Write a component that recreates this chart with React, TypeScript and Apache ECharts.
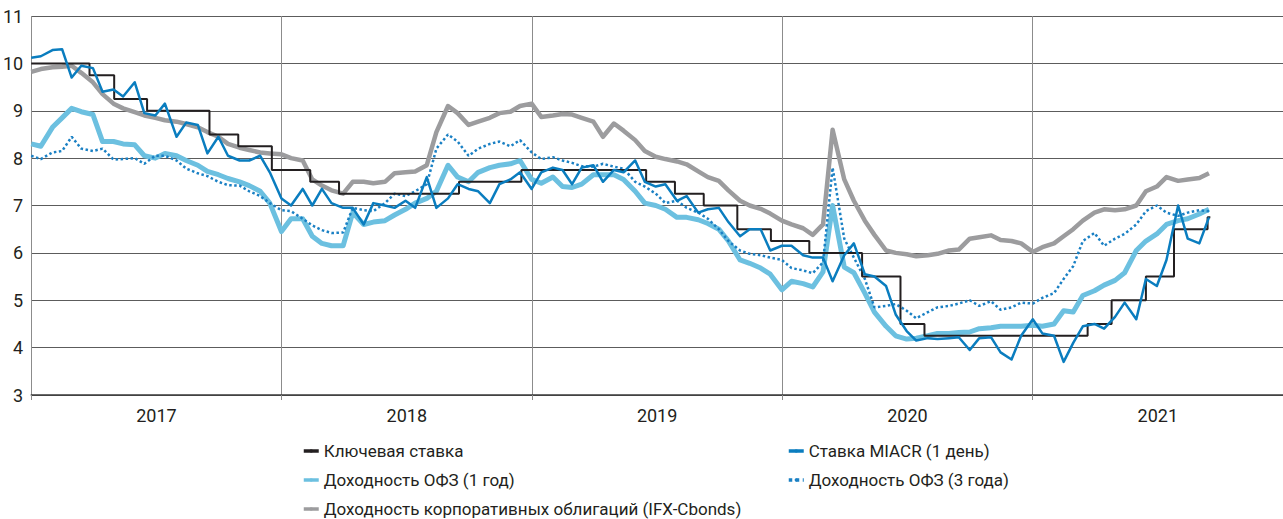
import { useEffect, useRef } from "react";
import * as echarts from "echarts";

const FONT = "Roboto, 'Noto Sans', sans-serif";

const years = ["2017", "2018", "2019", "2020", "2021"];

// Semi-monthly observation dates: 1st and 15th of each month, Jan 2017 - Sep 15 2021
const dates: string[] = [];
for (let y = 2017; y <= 2021; y++) {
  for (let m = 1; m <= 12; m++) {
    for (const d of [1, 15]) {
      if (y === 2021 && m > 9) continue;
      const mm = String(m).padStart(2, "0");
      const dd = String(d).padStart(2, "0");
      dates.push(`${y}-${mm}-${dd}`);
    }
  }
}

const keyRateDates = [
  "2017-01-01", "2017-03-27", "2017-05-02", "2017-06-19", "2017-09-18", "2017-10-30",
  "2017-12-18", "2018-02-12", "2018-03-26", "2018-09-17", "2018-12-17", "2019-06-17",
  "2019-07-29", "2019-09-09", "2019-10-28", "2019-12-16", "2020-02-10", "2020-04-27",
  "2020-06-22", "2020-07-27", "2021-03-22", "2021-04-26", "2021-06-15", "2021-07-26",
  "2021-09-13", "2021-09-17",
];
const keyRateValues = [
  10.0, 9.75, 9.25, 9.0, 8.5, 8.25,
  7.75, 7.5, 7.25, 7.5, 7.75, 7.5,
  7.25, 7.0, 6.5, 6.25, 6.0, 5.5,
  4.5, 4.25, 4.5, 5.0, 5.5, 6.5,
  6.75, 6.75,
];

const miacr = [
  10.12, 10.15, 10.28, 10.3, 9.7, 9.95, 9.9, 9.4, 9.45, 9.3, 9.6, 8.95,
  8.9, 9.15, 8.45, 8.75, 8.7, 8.1, 8.45, 8.05, 7.95, 7.95, 8.05, 7.7,
  7.15, 7.0, 7.35, 7.0, 7.35, 7.05, 6.95, 6.95, 6.6, 7.05, 7.0, 6.95,
  7.1, 6.95, 7.6, 6.95, 7.15, 7.45, 7.35, 7.3, 7.05, 7.45, 7.55, 7.7,
  7.35, 7.7, 7.8, 7.75, 7.45, 7.8, 7.85, 7.5, 7.75, 7.7, 7.95, 7.5,
  7.4, 7.45, 7.1, 7.2, 6.85, 6.92, 6.95, 6.65, 6.35, 6.5, 6.5, 6.05,
  6.15, 6.15, 5.95, 5.9, 5.9, 5.4, 5.95, 6.2, 5.55, 5.5, 5.3, 4.7,
  4.35, 4.15, 4.2, 4.18, 4.2, 4.22, 3.95, 4.2, 4.22, 3.9, 3.75, 4.25,
  4.6, 4.3, 4.25, 3.7, 4.1, 4.45, 4.5, 4.4, 4.65, 4.95, 4.6, 5.45,
  5.3, 5.85, 7.0, 6.3, 6.2, 6.75,
];

const ofz1 = [
  8.3, 8.25, 8.65, 8.85, 9.05, 8.98, 8.92, 8.35, 8.35, 8.3, 8.28, 8.05,
  8.0, 8.1, 8.05, 7.95, 7.85, 7.72, 7.65, 7.57, 7.5, 7.42, 7.3, 7.05,
  6.45, 6.72, 6.72, 6.35, 6.2, 6.15, 6.15, 6.85, 6.6, 6.65, 6.68, 6.8,
  6.92, 7.05, 7.15, 7.3, 7.85, 7.6, 7.5, 7.7, 7.8, 7.85, 7.88, 7.95,
  7.55, 7.47, 7.6, 7.4, 7.38, 7.45, 7.65, 7.65, 7.65, 7.55, 7.3, 7.05,
  7.0, 6.92, 6.75, 6.75, 6.7, 6.62, 6.5, 6.25, 5.85, 5.78, 5.68, 5.55,
  5.22, 5.4, 5.35, 5.28, 5.6, 7.0, 5.7, 5.58, 5.15, 4.75, 4.45, 4.25,
  4.18, 4.2, 4.25, 4.3, 4.3, 4.32, 4.33, 4.4, 4.42, 4.45, 4.45, 4.45,
  4.47, 4.45, 4.5, 4.78, 4.75, 5.1, 5.2, 5.32, 5.42, 5.58, 6.05, 6.25,
  6.4, 6.6, 6.68, 6.72, 6.82, 6.92,
];

const ofz3 = [
  8.05, 7.98, 8.12, 8.15, 8.45, 8.2, 8.15, 8.2, 7.97, 7.98, 8.0, 7.88,
  8.05, 8.05, 7.95, 7.78, 7.68, 7.62, 7.5, 7.43, 7.42, 7.3, 7.2, 7.05,
  6.9, 6.88, 6.72, 6.58, 6.48, 6.42, 6.43, 6.95, 6.9, 6.88, 7.05, 7.25,
  7.2, 7.3, 7.45, 8.2, 8.5, 8.35, 8.05, 8.2, 8.3, 8.35, 8.25, 8.38,
  8.12, 7.98, 8.02, 7.95, 7.9, 7.83, 7.82, 7.88, 7.82, 7.78, 7.5, 7.4,
  7.25, 7.05, 7.1, 6.95, 6.85, 6.72, 6.5, 6.25, 6.05, 5.98, 5.95, 5.9,
  5.85, 5.68, 5.63, 5.57, 5.8, 7.8, 6.3, 5.9, 5.45, 4.85, 4.88, 4.92,
  4.78, 4.62, 4.75, 4.85, 4.88, 4.93, 5.0, 4.88, 4.98, 4.8, 4.85, 4.95,
  4.93, 5.05, 5.15, 5.45, 5.72, 6.25, 6.42, 6.15, 6.3, 6.4, 6.6, 6.88,
  7.0, 6.85, 6.78, 6.85, 6.9, 6.88,
];

const corp = [
  9.82, 9.88, 9.92, 9.93, 9.95, 9.8, 9.6, 9.35, 9.15, 9.05, 8.97, 8.9,
  8.85, 8.8, 8.77, 8.72, 8.65, 8.55, 8.45, 8.3, 8.22, 8.17, 8.12, 8.1,
  8.08, 8.0, 7.95, 7.55, 7.42, 7.32, 7.25, 7.5, 7.5, 7.47, 7.5, 7.68,
  7.7, 7.72, 7.85, 8.55, 9.1, 8.95, 8.7, 8.77, 8.85, 8.95, 8.98, 9.1,
  9.15, 8.87, 8.9, 8.93, 8.92, 8.85, 8.77, 8.45, 8.73, 8.58, 8.38, 8.15,
  8.03, 7.98, 7.93, 7.87, 7.72, 7.6, 7.52, 7.32, 7.1, 7.0, 6.93, 6.83,
  6.68, 6.6, 6.52, 6.38, 6.6, 8.6, 7.55, 7.1, 6.68, 6.38, 6.05, 6.0,
  5.97, 5.93, 5.95, 5.98, 6.05, 6.07, 6.3, 6.33, 6.37, 6.27, 6.25, 6.2,
  6.02, 6.12, 6.2, 6.35, 6.5, 6.68, 6.85, 6.92, 6.9, 6.92, 7.0, 7.3,
  7.4, 7.6, 7.52, 7.55, 7.58, 7.68,
];

const NAMES = {
  key: "Ключевая ставка",
  miacr: "Ставка MIACR (1 день)",
  ofz1: "Доходность ОФЗ (1 год)",
  ofz3: "Доходность ОФЗ (3 года)",
  corp: "Доходность корпоративных облигаций (IFX-Cbonds)",
};

const COLORS = {
  key: "#231f20",
  miacr: "#0a7dbf",
  ofz1: "#6cc0e0",
  ofz3: "#1a80c4",
  corp: "#9c9c9e",
};

function pair(values: number[]) {
  return dates.map((d, i) => [d, values[i]]);
}

export default function App() {
  const ref = useRef<HTMLDivElement>(null);

  useEffect(() => {
    if (!ref.current) return;
    const chart = echarts.init(ref.current, undefined, { renderer: "svg" });
    const legendText = { fontSize: 17, color: "#231f20", fontFamily: FONT, lineHeight: 18 };
    const legendItem = (name: string, left: number, top: number) => ({
      orient: "horizontal",
      left,
      top,
      padding: 0,
      itemWidth: 15,
      itemHeight: 4,
      selectedMode: false,
      textStyle: legendText,
      lineStyle: { width: 3.5 },
      data: [name],
    });
    const lineBase = {
      type: "line" as const,
      xAxisIndex: 0,
      yAxisIndex: 0,
      symbol: "none",
      showSymbol: false,
      silent: true,
    };
    chart.setOption({
      animation: false,
      textStyle: { fontFamily: FONT },
      grid: { left: 30, right: -3, top: 16, bottom: 124, containLabel: false },
      xAxis: [
        {
          type: "time",
          min: "2017-01-01",
          max: "2022-01-01",
          show: false,
        },
        {
          type: "category",
          data: years,
          boundaryGap: true,
          position: "bottom",
          axisLine: { show: true, lineStyle: { color: "#3a3a3a", width: 1.5 } },
          axisTick: { show: true, length: 5, lineStyle: { color: "#8c8c8c" } },
          axisLabel: { fontSize: 18, color: "#231f20", margin: 11, fontFamily: FONT },
          splitLine: { show: true, lineStyle: { color: "#8c8c8c", width: 1 } },
        },
      ],
      yAxis: {
        type: "value",
        min: 3,
        max: 11,
        interval: 1,
        axisLine: { show: false },
        axisTick: { show: false },
        axisLabel: { fontSize: 18, color: "#231f20", margin: 8, fontFamily: FONT },
        splitLine: { show: true, lineStyle: { color: "#5c5c5c", width: 1 } },
      },
      legend: [
        legendItem(NAMES.key, 302, 442),
        legendItem(NAMES.ofz1, 302, 471),
        legendItem(NAMES.corp, 302, 500),
        legendItem(NAMES.miacr, 787, 442),
        legendItem(NAMES.ofz3, 787, 471),
      ],
      series: [
        {
          ...lineBase,
          name: NAMES.corp,
          data: pair(corp),
          lineStyle: { color: COLORS.corp, width: 4.5, join: "round" },
          itemStyle: { color: COLORS.corp },
          z: 2,
        },
        {
          ...lineBase,
          name: NAMES.ofz1,
          data: pair(ofz1),
          lineStyle: { color: COLORS.ofz1, width: 5, join: "round" },
          itemStyle: { color: COLORS.ofz1 },
          z: 3,
        },
        {
          ...lineBase,
          name: NAMES.ofz3,
          data: pair(ofz3),
          lineStyle: { color: COLORS.ofz3, width: 2.5, type: "dotted" },
          itemStyle: { color: COLORS.ofz3 },
          z: 4,
        },
        {
          ...lineBase,
          name: NAMES.key,
          step: "end",
          data: keyRateDates.map((d, i) => [d, keyRateValues[i]]),
          lineStyle: { color: COLORS.key, width: 2 },
          itemStyle: { color: COLORS.key },
          z: 5,
        },
        {
          ...lineBase,
          name: NAMES.miacr,
          data: pair(miacr),
          lineStyle: { color: COLORS.miacr, width: 2.5, join: "round" },
          itemStyle: { color: COLORS.miacr },
          z: 6,
        },
      ],
    });
    return () => chart.dispose();
  }, []);

  return (
    <div
      ref={ref}
      style={{ position: "fixed", left: 0, top: 0, width: 1283, height: 519, background: "#fff" }}
    />
  );
}
